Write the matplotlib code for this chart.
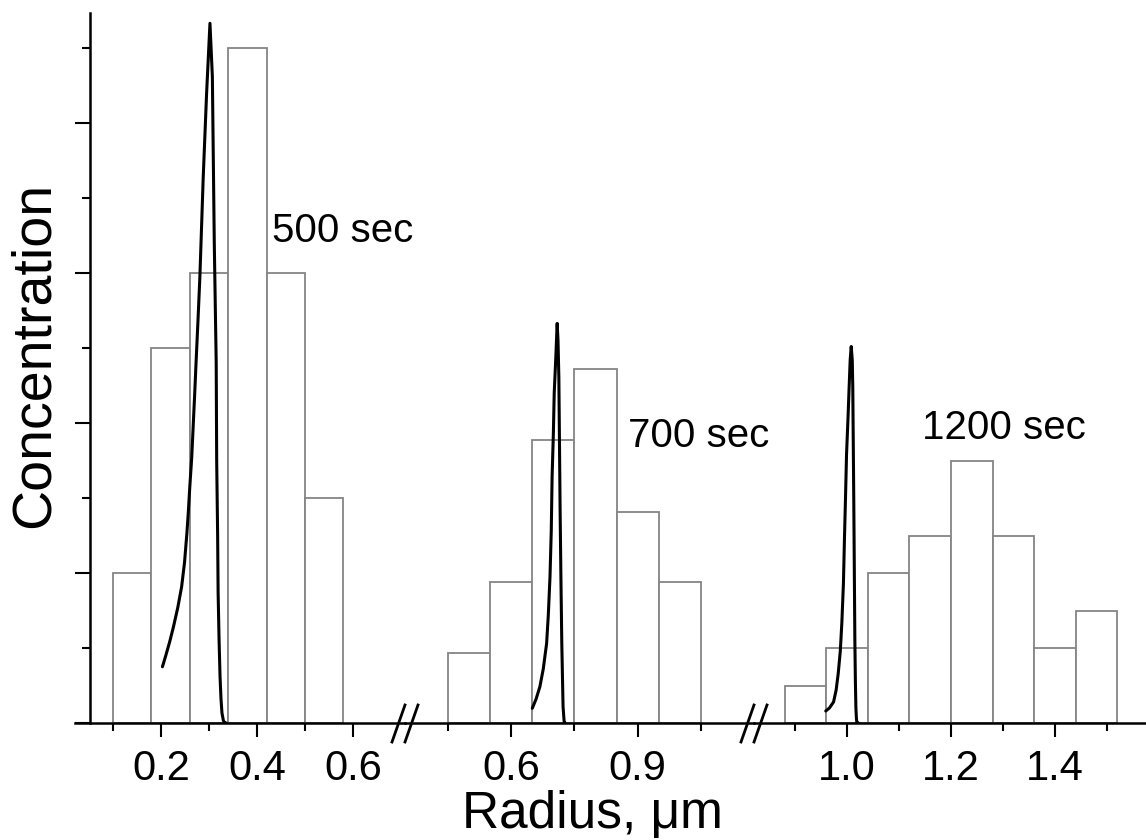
"""
Size distributions at three times, on a broken radius axis.
"""

import matplotlib
matplotlib.use("Agg")
import matplotlib.pyplot as plt
from matplotlib.lines import Line2D

plt.rcParams["font.family"] = ["Liberation Sans", "DejaVu Sans"]

# histogram bins (centres, width) and heights for each time
bins_500 = [0.14, 0.22, 0.30, 0.38, 0.46, 0.54]
hist_500 = [1.0, 2.5, 3.0, 4.5, 3.0, 1.5]
width_500 = 0.08

bins_700 = [0.50, 0.60, 0.70, 0.80, 0.90, 1.00]
hist_700 = [0.47, 0.94, 1.89, 2.36, 1.41, 0.94]
width_700 = 0.10

bins_1200 = [0.92, 1.00, 1.08, 1.16, 1.24, 1.32, 1.40, 1.48]
hist_1200 = [0.25, 0.5, 1.0, 1.25, 1.75, 1.25, 0.5, 0.75]
width_1200 = 0.08

# computed distribution curves
curve_500_r = [0.203, 0.210, 0.218, 0.226, 0.235, 0.243, 0.249, 0.254, 0.257,
               0.260, 0.264, 0.267, 0.270, 0.273, 0.277, 0.281, 0.288, 0.295,
               0.302, 0.307, 0.311, 0.315, 0.316, 0.318, 0.319, 0.321, 0.323,
               0.325, 0.327, 0.330, 0.333, 0.336]
curve_500_c = [0.375, 0.45, 0.54, 0.642, 0.77, 0.909, 1.07, 1.267, 1.41,
               1.575, 1.77, 1.975, 2.18, 2.40, 2.68, 2.975, 3.642, 4.198,
               4.665, 4.309, 3.20, 2.40, 1.753, 1.25, 0.867, 0.55, 0.309,
               0.16, 0.067, 0.015, 0.0, 0.0]

curve_700_r = [0.650, 0.659, 0.668, 0.676, 0.684, 0.688, 0.692, 0.695, 0.697,
               0.700, 0.702, 0.706, 0.709, 0.711, 0.713, 0.716, 0.718, 0.720,
               0.722, 0.723, 0.725, 0.726, 0.728]
curve_700_c = [0.098, 0.16, 0.242, 0.36, 0.531, 0.72, 0.975, 1.28, 1.642,
               1.93, 2.198, 2.45, 2.664, 2.55, 2.309, 1.42, 0.95, 0.531,
               0.25, 0.109, 0.03, 0.0, 0.0]

curve_1200_r = [0.959, 0.966, 0.974, 0.979, 0.983, 0.987, 0.990, 0.993, 0.995,
                0.997, 0.999, 1.002, 1.004, 1.006, 1.008, 1.010, 1.011, 1.013,
                1.015, 1.016, 1.017, 1.018, 1.019, 1.022]
curve_1200_c = [0.08, 0.10, 0.14, 0.22, 0.33, 0.48, 0.67, 0.93, 1.23, 1.5,
                1.79, 2.05, 2.24, 2.42, 2.51, 2.42, 2.24, 1.45, 0.55, 0.28,
                0.10, 0.03, 0.0, 0.0]

labels = ["500 sec", "700 sec", "1200 sec"]

GRAY = "#858585"
W, H = 1146, 840

fig = plt.figure(figsize=(W / 100, H / 100), dpi=100)

bottom = (H - 723) / H
height = (723 - 13) / H
ylim = (0, (723 - 13) / 150)

# segments: pixel left/right edges, x limits, ticks
segments = [
    dict(px=(90, 405), xlim=(0.0521, 0.7083), major=[0.2, 0.4, 0.6],
         minor=[0.1, 0.3, 0.5],
         bins=bins_500, hist=hist_500, width=width_500,
         r=curve_500_r, c=curve_500_c, label=labels[0], lpos=(0.431, 3.207)),
    dict(px=(405, 754), xlim=(0.348, 1.176), major=[0.6, 0.9],
         minor=[0.45, 0.75, 1.05],
         bins=bins_700, hist=hist_700, width=width_700,
         r=curve_700_r, c=curve_700_c, label=labels[1], lpos=(0.877, 1.84)),
    dict(px=(754, 1146), xlim=(0.821, 1.575), major=[1.0, 1.2, 1.4],
         minor=[0.9, 1.1, 1.3, 1.5],
         bins=bins_1200, hist=hist_1200, width=width_1200,
         r=curve_1200_r, c=curve_1200_c, label=labels[2], lpos=(1.144, 1.893)),
]

for i, seg in enumerate(segments):
    x0, x1 = seg["px"]
    ax = fig.add_axes([x0 / W, bottom, (x1 - x0) / W, height])
    ax.patch.set_alpha(0)
    ax.set_xlim(*seg["xlim"])
    ax.set_ylim(*ylim)

    ax.bar(seg["bins"], seg["hist"], width=seg["width"], facecolor="white",
           edgecolor=GRAY, linewidth=1.3, zorder=1)
    ax.plot(seg["r"], seg["c"], color="black", linewidth=2.2, zorder=3,
            solid_joinstyle="round", solid_capstyle="round")
    ax.text(seg["lpos"][0], seg["lpos"][1], seg["label"], fontsize=29,
            ha="left", va="baseline")

    for side in ["top", "right", "left"]:
        ax.spines[side].set_visible(False)
    ax.spines["bottom"].set_linewidth(1.8)

    ax.set_xticks(seg["major"])
    ax.set_xticklabels([f"{v:.1f}" for v in seg["major"]])
    ax.set_xticks(seg["minor"], minor=True)
    ax.tick_params(axis="x", which="major", direction="out", length=10,
                   width=1.5, labelsize=30, pad=9)
    ax.tick_params(axis="x", which="minor", direction="out", length=6,
                   width=1.5)

    if i == 0:
        ax.spines["left"].set_visible(True)
        ax.spines["left"].set_linewidth(1.8)
        ax.spines["bottom"].set_bounds(0.1 - 38 / 480, seg["xlim"][1])
        ax.set_yticks([0, 1, 2, 3, 4])
        ax.set_yticks([0.5, 1.5, 2.5, 3.5, 4.5], minor=True)
        ax.set_yticklabels([])
        ax.tick_params(axis="y", which="major", direction="out", length=11,
                       width=1.5)
        ax.tick_params(axis="y", which="minor", direction="out", length=6,
                       width=1.5)
    else:
        ax.set_yticks([])

# axis break marks "//"
for cx in [405, 754]:
    for dx in [-13, 0]:
        xs = [(cx + dx) / W, (cx + dx + 13) / W]
        ys = [1 - 742 / H, 1 - 705 / H]
        fig.add_artist(Line2D(xs, ys, color="black", linewidth=2.0,
                              transform=fig.transFigure))

fig.text(592 / W, 1 - 828 / H, "Radius, \u03bcm", fontsize=37,
         ha="center", va="baseline")
fig.text(35 / W, 1 - 355 / H, "Concentration", fontsize=40,
         rotation=90, ha="center", va="center")

fig.savefig("out.png", dpi=100)
